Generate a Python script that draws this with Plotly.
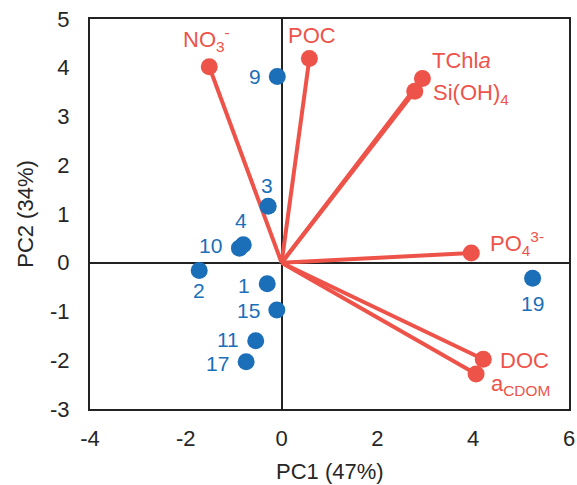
import plotly.graph_objects as go

# Sample scores (blue)
site_labels = ["9", "3", "4", "10", "2", "1", "15", "11", "17", "19"]
site_pc1 = [-0.09, -0.28, -0.80, -0.88, -1.72, -0.30, -0.10, -0.54, -0.74, 5.24]
site_pc2 = [3.82, 1.16, 0.37, 0.30, -0.16, -0.43, -0.97, -1.60, -2.03, -0.32]

# Variable loadings (red vectors)
var_labels = ["NO<sub>3</sub><sup>-</sup>", "POC", "TChl<i>a</i>", "Si(OH)<sub>4</sub>",
              "PO<sub>4</sub><sup>3-</sup>", "DOC", "a<sub>CDOM</sub>"]
var_pc1 = [-1.51, 0.58, 2.94, 2.78, 3.96, 4.21, 4.06]
var_pc2 = [4.02, 4.19, 3.78, 3.52, 0.20, -1.98, -2.28]

# Tick labels
x_tickvals = [-4, -2, 0, 2, 4, 6]
x_ticktext = ["-4", "-2", "0", "2", "4", "6"]
y_tickvals = [-3, -2, -1, 0, 1, 2, 3, 4, 5]
y_ticktext = ["-3", "-2", "-1", "0", "1", "2", "3", "4", "5"]

RED = "#EE534A"
BLUE = "#1B6FB9"
FONT = "Liberation Sans, Arial, sans-serif"

# label placement (pixel offsets, anchors) - styling only
site_lab_style = {
    "9": ("right", -14, 0), "3": ("center", -1, 21), "4": ("center", -2, 24),
    "10": ("right", -15, 3), "2": ("center", 0, -20), "1": ("right", -15, -2),
    "15": ("right", -15, 0), "11": ("right", -15, 1), "17": ("right", -15, -2),
    "19": ("center", 0, -25),
}
var_lab_style = [("center", -3, 27), ("center", 3, 23), ("left", 8, 18), ("left", 16, -3),
                 ("left", 17, 10), ("left", 15, -1), ("left", 13, -11)]

fig = go.Figure()

lx, ly = [], []
for x, y in zip(var_pc1, var_pc2):
    lx += [0, x, None]
    ly += [0, y, None]
fig.add_trace(go.Scatter(x=lx, y=ly, mode="lines", line=dict(color=RED, width=4),
                         hoverinfo="skip", showlegend=False))
fig.add_trace(go.Scatter(x=var_pc1, y=var_pc2, mode="markers",
                         marker=dict(color=RED, size=17), showlegend=False))
fig.add_trace(go.Scatter(x=site_pc1, y=site_pc2, mode="markers",
                         marker=dict(color=BLUE, size=17), showlegend=False))

for lab, x, y in zip(site_labels, site_pc1, site_pc2):
    anc, dx, dy = site_lab_style[lab]
    fig.add_annotation(x=x, y=y, text=lab, showarrow=False, xanchor=anc, yanchor="middle",
                       xshift=dx, yshift=dy, font=dict(color=BLUE, size=21, family=FONT))
for lab, x, y, (anc, dx, dy) in zip(var_labels, var_pc1, var_pc2, var_lab_style):
    fig.add_annotation(x=x, y=y, text=lab, showarrow=False, xanchor=anc, yanchor="middle",
                       xshift=dx, yshift=dy, font=dict(color=RED, size=22, family=FONT))

# x-axis title as paper annotation (placed below tick labels)
fig.add_annotation(text="PC1 (47%)", xref="paper", yref="paper", x=0.5, y=0,
                   xanchor="center", yanchor="middle", yshift=-62, showarrow=False,
                   font=dict(size=22, color="#262626", family=FONT))

axis_common = dict(showgrid=False, zeroline=True, zerolinecolor="#222222", zerolinewidth=2,
                   showline=True, linecolor="#222222", linewidth=2, mirror=True, ticks="",
                   automargin=False,
                   tickfont=dict(size=22, color="#262626", family=FONT))
fig.update_xaxes(range=[-4, 6], tickmode="array", tickvals=x_tickvals, ticktext=x_ticktext,
                 **axis_common)
fig.update_yaxes(range=[-3, 5], tickmode="array", tickvals=y_tickvals, ticktext=y_ticktext,
                 title=dict(text="PC2 (34%)", standoff=10,
                            font=dict(size=22, color="#262626", family=FONT)), **axis_common)

fig.update_layout(width=577, height=485, margin=dict(l=90, r=8, t=19, b=76),
                  plot_bgcolor="white", paper_bgcolor="white", font=dict(family=FONT))
fig.update_xaxes(ticklabelstandoff=9)
fig.update_yaxes(ticklabelstandoff=14)

fig.write_html("out.html")
